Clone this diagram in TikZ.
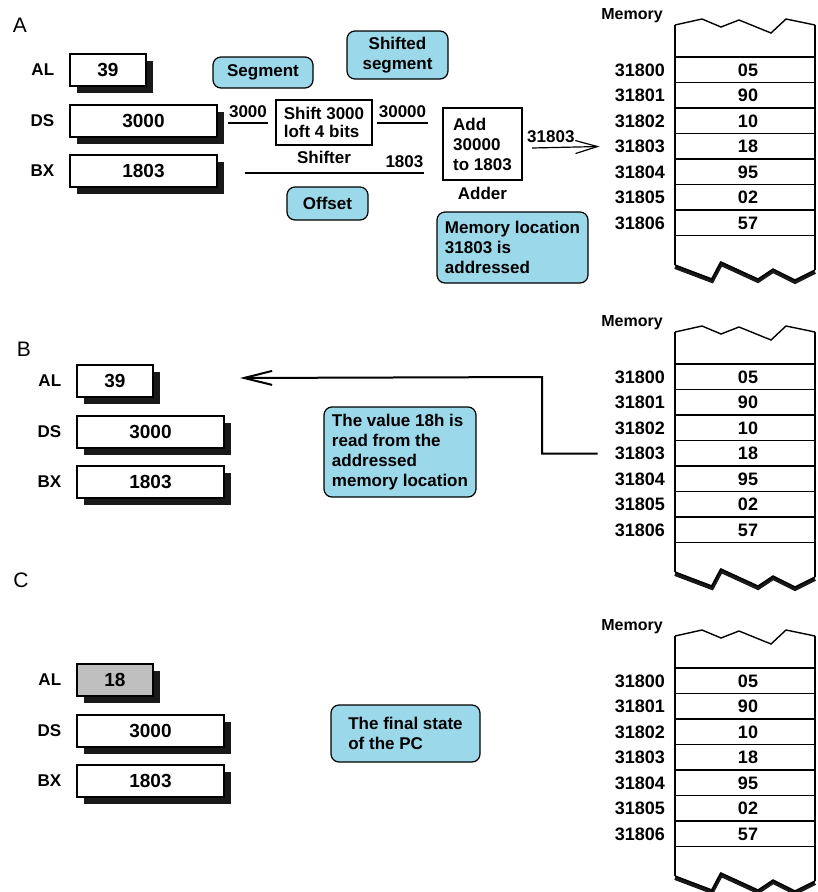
\documentclass[tikz,border=0pt]{standalone}
\usepackage{fontspec}
\setmainfont{Liberation Sans}
\usetikzlibrary{arrows.meta,shadows,positioning}

\definecolor{noteblue}{RGB}{154,216,234}

\tikzset{
  reg/.style={draw, line width=1.3pt, fill=white, minimum height=32, inner sep=0,
    font=\fontsize{19}{22}\selectfont\bfseries,
    drop shadow={shadow xshift=7pt, shadow yshift=-7pt, fill=black!90, opacity=1}},
  note/.style={draw, line width=1.2pt, fill=noteblue, rounded corners=8pt, inner sep=0, align=left},
  unit/.style={draw, line width=1.4pt, inner sep=0, align=left},
  wire/.style={line width=1.3pt},
  letter/.style={inner sep=0, font=\fontsize{21}{24}\selectfont\mdseries},
  memlbl/.style={anchor=east, inner sep=0, font=\fontsize{18}{20}\selectfont\bfseries},
  memval/.style={inner sep=0, font=\fontsize{18}{20}\selectfont\bfseries},
  addrarrow/.style={line width=1.2pt, -{Straight Barb[length=22pt, width=13pt]}},
  readarrow/.style={line width=2pt, -{Straight Barb[length=28pt, width=14pt]}}
}

\begin{document}
\begin{tikzpicture}[x=1pt, y=-1pt, font=\fontsize{17}{20}\selectfont\bfseries]

\fill[white] (0,0) rectangle (817,892);
\useasboundingbox (0,0) rectangle (817,892);

% Section letters
\node[letter] (secA) at (20,25) {A};
\node[letter] (secB) at (24,349) {B};
\node[letter] (secC) at (21,580) {C};

% Registers
\foreach \dx/\dy/\tg/\alv/\alc in {0/0/A/39/white, 7/311/B/39/white, 7/610/C/18/black!25}{
  \node[reg, fill=\alc, minimum width=76] (al\tg) at (108+\dx,70+\dy) {\alv};
  \node[reg, minimum width=147] (ds\tg) at (143.5+\dx,121+\dy) {3000};
  \node[reg, minimum width=147] (bx\tg) at (143.5+\dx,171+\dy) {1803};
  \node[inner sep=0, anchor=east] (allbl\tg) at ([xshift=-15]al\tg.west) {AL};
  \node[inner sep=0, anchor=east] (dslbl\tg) at ([xshift=-15]ds\tg.west) {DS};
  \node[inner sep=0, anchor=east] (bxlbl\tg) at ([xshift=-15]bx\tg.west) {BX};
}

% Memory
\foreach \dy/\tg in {0/A,307/B,611/C}{
  \begin{scope}[shift={(0,\dy)}]
    \node[inner sep=0, font=\fontsize{16}{18}\selectfont\bfseries] (mem\tg) at (632,16) {Memory};
    \draw[line width=2pt] (675,25) -- (675,265);
    \draw[line width=2pt] (815,25) -- (815,270);
    \draw[line width=1.4pt] (675,25) -- (702,19) -- (721,27) -- (739,20) -- (771,33) -- (786,19) -- (815,25);
    \draw[line width=4pt, black!90] (675,267) -- (712,281) -- (721,264) -- (758,281) -- (773,271) -- (795,282) -- (815,272);
    \draw[line width=1.4pt] (675,265) -- (712,279) -- (721,262) -- (758,279) -- (773,269) -- (795,280) -- (815,270);
    \foreach \j in {0,...,7}
      \draw[line width=1.2pt] (675,57+25.5*\j) -- (815,57+25.5*\j);
    \foreach \v [count=\i from 0] in {05,90,10,18,95,02,57}{
      \node[memlbl] (adr\tg\i) at (665,70+25.5*\i) {3180\i};
      \node[memval] (val\tg\i) at (748,70+25.5*\i) {\v};
    }
  \end{scope}
}

% Address calculation
\node[unit, minimum width=96, minimum height=45, font=\fontsize{17}{18}\selectfont\bfseries] (shifter) at (324,122.5) {Shift 3000\\loft 4 bits};
\node[inner sep=0, below=5pt of shifter] (shiftlbl) {Shifter};
\node[unit, minimum width=79, minimum height=72] (adder) at (482.5,144) {Add\\30000\\to 1803};
\node[inner sep=0, below=6pt of adder] (addlbl) {Adder};

\coordinate (segL) at (228,123);
\coordinate (segR) at (268,123);
\coordinate (shsL) at (377,123);
\coordinate (shsR) at (428,123);
\coordinate (offL) at (245,173);
\coordinate (offR) at (424,173);
\coordinate (addrL) at (532,148);

\draw[wire] (segL) -- (segR) node[midway, above=5pt, inner sep=0] {3000};
\draw[wire] (shsL) -- (shsR) node[midway, above=5pt, inner sep=0] {30000};
\draw[wire] (offL) -- (offR) node[pos=1, anchor=south east, yshift=5pt, inner sep=0] {1803};
\draw[addrarrow] (addrL) -- ([xshift=-15]adrA3.west);
\node[inner sep=0, anchor=south west] (addrlbl) at ([xshift=-5, yshift=5pt]addrL) {31803};

% Read back into AL
\coordinate (readbend) at (542,377);
\coordinate (readtip) at (240,378);
\draw[readarrow] ([xshift=-17]adrB3.west) -| (readbend) -- (readtip);

% Notes
\node[note, minimum width=100, minimum height=31] (segnote) at (263,72.5) {Segment};
\node[note, minimum width=101, minimum height=48, align=center] (shsnote) at (397.5,55) {Shifted\\segment};
\node[note, minimum width=81, minimum height=33] (offnote) at (327.5,203.5) {Offset};
\node[note, minimum width=151, minimum height=71] (locnote) at (512.5,247.5) {Memory location\\31803 is\\addressed};
\node[note, minimum width=152, minimum height=90] (readnote) at (400,452) {The value 18h is\\read from the\\addressed\\memory location};
\node[note, minimum width=149, minimum height=57] (finalnote) at (405.5,733.5) {The final state\\of the PC};

\end{tikzpicture}
\end{document}
